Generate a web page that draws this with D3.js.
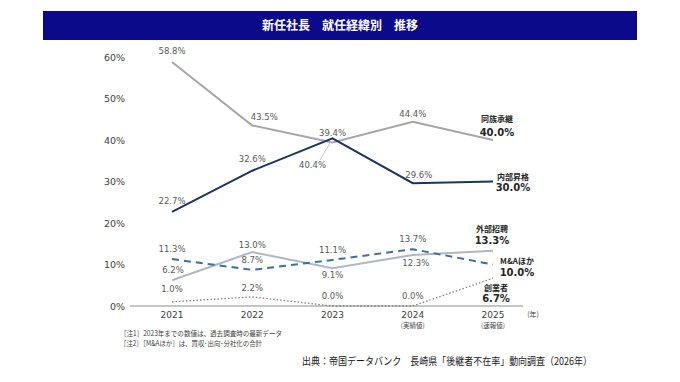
<!DOCTYPE html>
<html><head><meta charset="utf-8">
<script src="https://cdn.jsdelivr.net/npm/d3@7"></script>
<style>body{margin:0;background:#fff}svg{display:block}</style>
</head><body>
<script>
const years = ["2021","2022","2023","2024","2025"];
const yearSub = ["","","","(実績値)","(速報値)"];
const yTicks = [0,10,20,30,40,50,60];
const dozoku = [58.8,43.5,39.4,44.4,40.0];
const naibu = [22.7,32.6,40.4,29.6,30.0];
const gaibu = [6.2,13.0,9.1,12.3,13.3];
const mna = [11.3,8.7,11.1,13.7,10.0];
const sogyo = [1.0,2.2,0.0,0.0,6.7];
const seriesNames = ["同族承継","内部昇格","外部招聘","M&Aほか","創業者"];
const title = "新任社長　就任経緯別　推移";
const notes = ["［注1］2023年までの数値は、過去調査時の最新データ","［注2］［M&Aほか］は、買収･出向･分社化の合計"];
const source = "出典：帝国データバンク　長崎県「後継者不在率」動向調査（2026年）";

const W=680,H=382;
const svg=d3.select("body").append("svg").attr("width",W).attr("height",H);
const FN="'DejaVu Sans','Noto Sans CJK JP',sans-serif";
const FJ="'Noto Sans CJK JP',sans-serif";

svg.append("rect").attr("x",43).attr("y",11).attr("width",594).attr("height",29).attr("fill","#0a0a8a");
svg.append("text").attr("x",340).attr("y",30).attr("text-anchor","middle").attr("fill","#fff")
  .attr("font-family",FJ).attr("font-size",12).attr("font-weight","bold").text(title);

const x=d3.scalePoint().domain(years).range([172,493]);
const y=d3.scaleLinear().domain([0,60]).range([306,57]);

svg.append("g").selectAll("text").data(yTicks).join("text")
  .attr("x",125).attr("y",d=>y(d)+3.5).attr("text-anchor","end")
  .attr("font-family",FN).attr("font-size",9.5).attr("fill","#404040").text(d=>d+"%");
svg.append("line").attr("x1",130).attr("x2",523).attr("y1",y(0)).attr("y2",y(0)).attr("stroke","#8c8c8c").attr("stroke-width",1);
const xl=svg.append("g");
xl.selectAll("text.yr").data(years).join("text").attr("class","yr")
  .attr("x",d=>x(d)).attr("y",318).attr("text-anchor","middle")
  .attr("font-family",FN).attr("font-size",9).attr("fill","#404040").text(d=>d);
xl.selectAll("text.sub").data(years.map((d,i)=>[d,yearSub[i]]).filter(d=>d[1])).join("text").attr("class","sub")
  .attr("x",d=>x(d[0])).attr("y",328).attr("text-anchor","middle")
  .attr("font-family",FJ).attr("font-size",6.5).attr("fill","#404040").text(d=>d[1]);
svg.append("text").attr("x",533).attr("y",317).attr("text-anchor","middle").attr("font-family",FJ).attr("font-size",7).attr("fill","#404040").text("(年)");

const line=d3.line().x((d,i)=>x(years[i])).y(d=>y(d));
function drawLine(data,color,w,dash){
  svg.append("path").datum(data).attr("d",line).attr("fill","none").attr("stroke",color)
    .attr("stroke-width",w).attr("stroke-dasharray",dash||null).attr("stroke-linejoin","miter");
}
drawLine(sogyo,"#7f7f7f",1.3,"1.5,2");
drawLine(gaibu,"#adb7c5",2);
drawLine(mna,"#3b6ea5",2,"7,5");
drawLine(dozoku,"#a6a6a6",2);
drawLine(naibu,"#1c3461",2);

svg.append("line").attr("x1",320).attr("y1",160).attr("x2",331).attr("y2",y(naibu[2])+3).attr("stroke","#c8c8c8").attr("stroke-width",1);

function labels(data,offs){
  svg.append("g").selectAll("text").data(data.slice(0,4).map((v,i)=>({v,i}))).join("text")
    .attr("x",d=>x(years[d.i])+offs[d.i][0]).attr("y",d=>y(d.v)+offs[d.i][1])
    .attr("text-anchor","middle").attr("font-family",FN).attr("font-size",8.5).attr("fill","#595959")
    .text(d=>d.v.toFixed(1)+"%");
}
labels(dozoku,[[0,-8],[12,-5],[0,-6],[0,-5]]);
labels(naibu,[[0,-8],[0,-9],[-20,30],[6,-5]]);
labels(gaibu,[[1,-7],[0,-4],[0,10],[3,11]]);
labels(mna,[[0,-7],[0,-7],[0,-7],[0,-7]]);
labels(sogyo,[[0,-10],[0,-6],[0,-7],[0,-7]]);

function endLabel(name,v,cx,y1,y2){
  svg.append("text").attr("x",cx).attr("y",y1).attr("text-anchor","middle").attr("font-family",FJ)
    .attr("font-size",8).attr("font-weight","bold").attr("fill","#262626").text(name);
  svg.append("text").attr("x",cx).attr("y",y2).attr("text-anchor","middle").attr("font-family",FN)
    .attr("font-size",10).attr("font-weight","bold").attr("fill","#262626").text(v.toFixed(1)+"%");
}
endLabel(seriesNames[0],dozoku[4],497,122,136);
endLabel(seriesNames[1],naibu[4],513,180,191);
endLabel(seriesNames[2],gaibu[4],492,232,244);
endLabel(seriesNames[3],mna[4],517,264,276);
endLabel(seriesNames[4],sogyo[4],496,291,302);

const noteLen=[162,142];
svg.append("g").selectAll("text").data(notes).join("text")
  .attr("x",120).attr("y",(d,i)=>336+i*10).attr("font-family",FJ).attr("font-size",7).attr("fill","#404040")
  .attr("textLength",(d,i)=>noteLen[i]).attr("lengthAdjust","spacingAndGlyphs").text(d=>d);
svg.append("text").attr("x",302).attr("y",365).attr("font-family",FJ).attr("font-size",10.5).attr("fill","#1a1a1a")
  .attr("textLength",290).attr("lengthAdjust","spacingAndGlyphs").text(source);
</script>
</body></html>
